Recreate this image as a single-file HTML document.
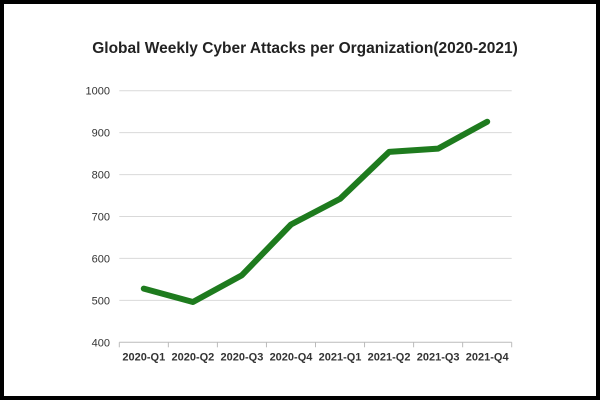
<!DOCTYPE html>
<html><head><meta charset="utf-8"><style>
html,body{margin:0;padding:0;background:#fff}
#wrap{position:relative;width:600px;height:400px;box-sizing:border-box;border:4px solid #000;background:#fff;overflow:hidden}
svg{position:absolute;left:-4px;top:-4px}
text{font-family:"Liberation Sans",sans-serif}
</style></head><body>
<div id="wrap">
<svg id="chart" width="600" height="400"></svg>
</div>
<script>
const categories=["2020-Q1","2020-Q2","2020-Q3","2020-Q4","2021-Q1","2021-Q2","2021-Q3","2021-Q4"];
const values=[528,496,560,681,742,854,862,926];
const yTicks=[400,500,600,700,800,900,1000];
const NS="http://www.w3.org/2000/svg";
const svg=document.getElementById('chart');
const L=119.3,R=511.7,T=90.7,B=342.3,ymin=400,ymax=1000;
const bw=(R-L)/categories.length;
function x(i){return L+bw*(i+0.5);}
function y(v){return B-(v-ymin)/(ymax-ymin)*(B-T);}
function mk(tag,attrs){const e=document.createElementNS(NS,tag);for(const k in attrs)e.setAttribute(k,attrs[k]);svg.appendChild(e);return e;}
let t=mk('text',{x:305,y:53,'text-anchor':'middle','font-size':'15.5','font-weight':'bold',fill:'#222'});
t.textContent='Global Weekly Cyber Attacks per Organization(2020-2021)';


yTicks.forEach(v=>{
  const g=mk('line',{x1:L,x2:R,y1:y(v),y2:y(v),stroke:v===ymin?'#bbb':'#d9d9d9','stroke-width':1});
  
  
  const lb=mk('text',{x:110,y:y(v)+4,'text-anchor':'end','font-size':'11',fill:'#333'});
  lb.textContent=v;
  
  
});
for(let i=0;i<=categories.length;i++){
  const tk=mk('line',{x1:L+bw*i,x2:L+bw*i,y1:B,y2:B+5,stroke:'#bbb','stroke-width':1});
  
  
}
categories.forEach((c,i)=>{
  const lb=mk('text',{x:x(i),y:B+18,'text-anchor':'middle','font-size':'11','font-weight':'bold',fill:'#333'});
  lb.textContent=c;
  
  
});
const pts=values.map((v,i)=>x(i).toFixed(1)+','+y(v).toFixed(1)).join(' ');
const pl=mk('polyline',{points:pts,fill:'none',stroke:'#1e7b1e','stroke-width':6,'stroke-linejoin':'round','stroke-linecap':'round'});


</script>
</body></html>
